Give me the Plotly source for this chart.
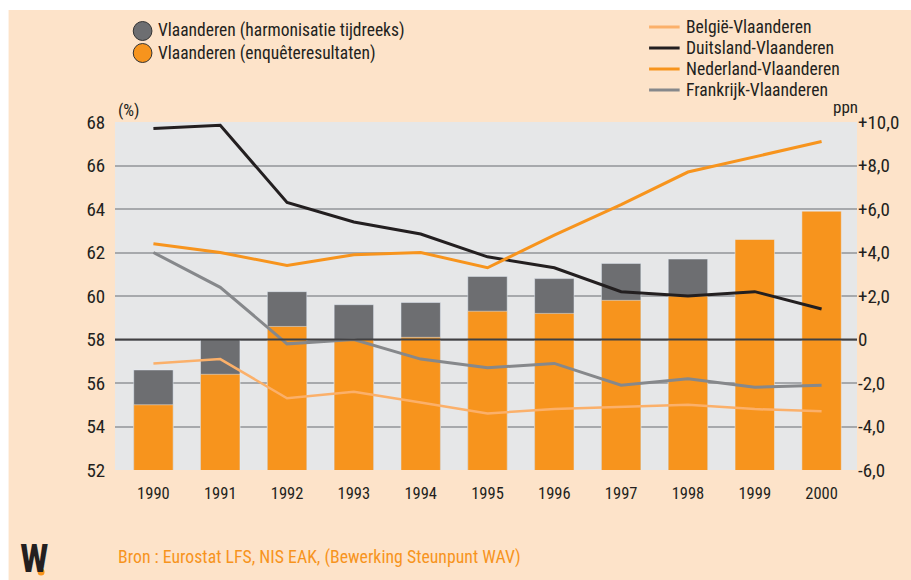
import plotly.graph_objects as go

years = [1990, 1991, 1992, 1993, 1994, 1995, 1996, 1997, 1998, 1999, 2000]
harmonisatie = [56.6, 58.0, 60.2, 59.6, 59.7, 60.9, 60.8, 61.5, 61.7, None, None]
enquete = [55.0, 56.4, 58.6, 58.0, 58.1, 59.3, 59.2, 59.8, 60.0, 62.6, 63.9]

belgie = [-1.1, -0.9, -2.7, -2.4, -2.9, -3.4, -3.2, -3.1, -3.0, -3.2, -3.3]
duitsland = [9.7, 9.85, 6.3, 5.4, 4.85, 3.8, 3.3, 2.2, 2.0, 2.2, 1.4]
nederland = [4.4, 4.0, 3.4, 3.9, 4.0, 3.3, 4.8, 6.2, 7.7, 8.4, 9.1]
frankrijk = [4.0, 2.4, -0.2, 0.0, -0.9, -1.3, -1.1, -2.1, -1.8, -2.2, -2.1]

left_ticks = [52, 54, 56, 58, 60, 62, 64, 66, 68]
right_ticks = [-6, -4, -2, 0, 2, 4, 6, 8, 10]
right_labels = ["-6,0", "-4,0", "-2,0", "0", "+2,0", "+4,0", "+6,0", "+8,0", "+10,0"]

bar_names = ["Vlaanderen (harmonisatie tijdreeks)", "Vlaanderen (enquêteresultaten)"]
line_names = ["België-Vlaanderen", "Duitsland-Vlaanderen", "Nederland-Vlaanderen", "Frankrijk-Vlaanderen"]

FONT = "Liberation Sans Narrow, Roboto Condensed, Arial Narrow, Liberation Sans, sans-serif"
TXT = "#231F20"
ORANGE = "#F7941D"
DGRAY = "#6D6E71"
LORANGE = "#FBB06A"
LGRAY = "#86888B"
PEACH = "#FDE3C9"

bar_colors = [DGRAY, ORANGE]
line_colors = [LORANGE, TXT, ORANGE, LGRAY]
line_widths = [2.5, 3, 3, 3]
line_series = [belgie, duitsland, nederland, frankrijk]

fig = go.Figure()

fig.add_trace(go.Bar(x=years, y=harmonisatie, marker_color=DGRAY, width=0.59,
                     showlegend=False, name=bar_names[0]))
fig.add_trace(go.Bar(x=years, y=enquete, marker_color=ORANGE, width=0.59,
                     showlegend=False, name=bar_names[1]))

for nm, ser, col, lw in zip(line_names, line_series, line_colors, line_widths):
    fig.add_trace(go.Scatter(x=years, y=ser, mode="lines", name=nm, yaxis="y2",
                             line=dict(color=col, width=lw), showlegend=False))

L, R, T, B = 115, 43, 122, 110
W, H = 911, 580
pw, ph = W - L - R, H - T - B

def px_x(p):
    return (p - L) / pw

def px_y(p):
    return (H - B - p) / ph

shapes = [
    dict(type="rect", xref="paper", yref="paper", x0=px_x(7), x1=px_x(960), y0=px_y(620), y1=px_y(10),
         fillcolor=PEACH, line=dict(width=0), layer="below"),
    dict(type="rect", xref="paper", yref="paper", x0=0, x1=1, y0=0, y1=1,
         fillcolor="#E6E7E8", line=dict(width=0), layer="below"),
    dict(type="line", xref="paper", yref="y", x0=0, x1=1, y0=58, y1=58,
         line=dict(color="#414042", width=2), layer="above"),
    dict(type="circle", xref="paper", yref="paper", x0=px_x(36.5), x1=px_x(43.5), y0=px_y(575.5), y1=px_y(568.5),
         fillcolor=ORANGE, line=dict(width=0)),
]

annotations = [
    dict(text="(%)", xref="paper", yref="paper", x=px_x(116), y=px_y(110), xanchor="left", yanchor="middle",
         showarrow=False, font=dict(size=17, color=TXT, family=FONT)),
    dict(text="ppn", xref="paper", yref="paper", x=px_x(871), y=px_y(107), xanchor="right", yanchor="middle",
         showarrow=False, font=dict(size=17, color=TXT, family=FONT)),
    dict(text="Bron : Eurostat LFS, NIS EAK, (Bewerking Steunpunt WAV)", xref="paper", yref="paper",
         x=px_x(116), y=px_y(557), xanchor="left", yanchor="middle", showarrow=False,
         font=dict(size=17.8, color=ORANGE, family=FONT)),
    dict(text="<b>W</b>", xref="paper", yref="paper", x=px_x(33), y=px_y(559), xanchor="center", yanchor="middle",
         showarrow=False, font=dict(size=38, color=TXT, family=FONT)),
]

# legend 1 (circles)
for i, (nm, col) in enumerate(zip(bar_names, bar_colors)):
    cy = 31 + 22 * i
    shapes.append(dict(type="circle", xref="paper", yref="paper",
                       x0=px_x(143 - 9.5), x1=px_x(143 + 9.5), y0=px_y(cy + 9.5), y1=px_y(cy - 9.5),
                       fillcolor=col, line=dict(color="#333333", width=1)))
    annotations.append(dict(text=nm, xref="paper", yref="paper", x=px_x(157), y=px_y(cy),
                            xanchor="left", yanchor="middle", showarrow=False,
                            font=dict(size=17.5, color=TXT, family=FONT)))

# legend 2 (lines)
for i, (nm, col) in enumerate(zip(line_names, line_colors)):
    cy = 27 + 21 * i
    shapes.append(dict(type="line", xref="paper", yref="paper",
                       x0=px_x(657), x1=px_x(688), y0=px_y(cy), y1=px_y(cy),
                       line=dict(color=col, width=3)))
    annotations.append(dict(text=nm, xref="paper", yref="paper", x=px_x(692), y=px_y(cy),
                            xanchor="left", yanchor="middle", showarrow=False,
                            font=dict(size=17.6, color=TXT, family=FONT)))

fig.update_layout(
    width=W, height=H,
    margin=dict(l=L, r=R, t=T, b=B, pad=0),
    paper_bgcolor="white",
    plot_bgcolor="rgba(0,0,0,0)",
    barmode="overlay",
    showlegend=False,
    font=dict(family=FONT, size=16, color=TXT),
    xaxis=dict(range=[1989.425, 2000.53], tickvals=years, ticktext=[str(y) for y in years],
               showgrid=False, zeroline=False, showline=False, ticks="outside", ticklen=8,
               tickcolor="rgba(0,0,0,0)", tickfont=dict(size=16.5, family=FONT, color=TXT)),
    yaxis=dict(range=[52, 68], tickvals=left_ticks, showgrid=True, gridcolor="#A7A9AC", gridwidth=1.5,
               zeroline=False, showline=False, ticks="outside", ticklen=5, tickcolor="rgba(0,0,0,0)",
               tickfont=dict(size=19, family=FONT, color=TXT)),
    yaxis2=dict(range=[-6, 10], overlaying="y", side="right", tickvals=right_ticks, ticktext=right_labels,
                showgrid=False, zeroline=False, showline=False, ticks="",
                tickfont=dict(size=19, family=FONT, color=TXT)),
    shapes=shapes,
    annotations=annotations,
)

fig.write_html("out.html", config={"displayModeBar": False},
               post_script="document.body.style.margin='0';document.body.style.padding='0';")
